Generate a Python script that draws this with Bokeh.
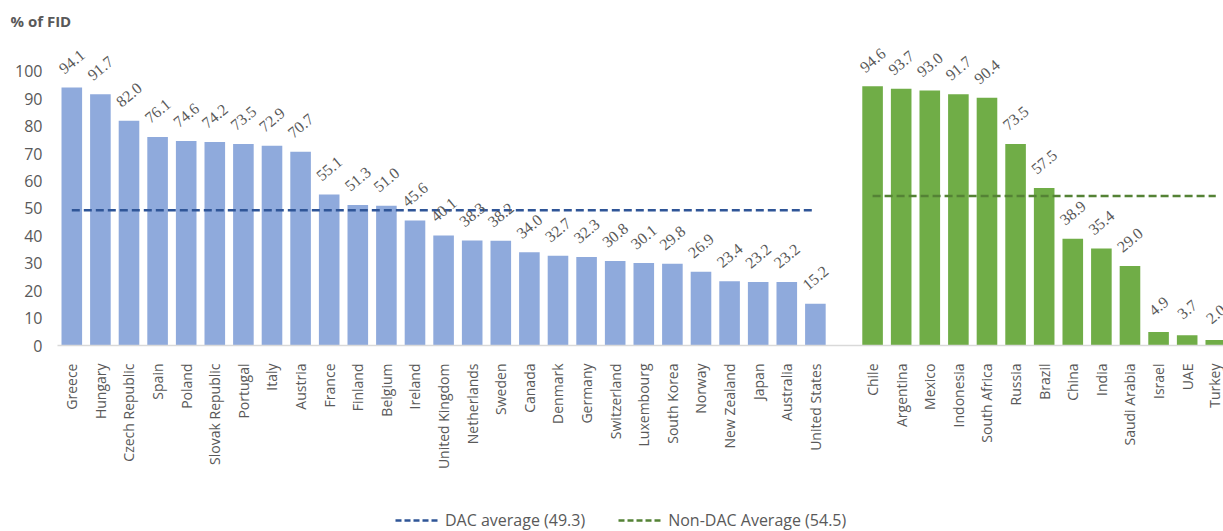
import math
from bokeh.plotting import figure
from bokeh.layouts import column
from bokeh.models import (ColumnDataSource, LabelSet, Legend, LegendItem,
                          FixedTicker, Range1d)
from bokeh.embed import file_html
from bokeh.resources import INLINE

# ---- data ----
dac_countries = ["Greece", "Hungary", "Czech Republic", "Spain", "Poland", "Slovak Republic",
                 "Portugal", "Italy", "Austria", "France", "Finland", "Belgium", "Ireland",
                 "United Kingdom", "Netherlands", "Sweden", "Canada", "Denmark", "Germany",
                 "Switzerland", "Luxembourg", "South Korea", "Norway", "New Zealand", "Japan",
                 "Australia", "United States"]
dac_values = [94.1, 91.7, 82.0, 76.1, 74.6, 74.2, 73.5, 72.9, 70.7, 55.1, 51.3, 51.0, 45.6,
              40.1, 38.3, 38.2, 34.0, 32.7, 32.3, 30.8, 30.1, 29.8, 26.9, 23.4, 23.2, 23.2, 15.2]
nondac_countries = ["Chile", "Argentina", "Mexico", "Indonesia", "South Africa", "Russia",
                    "Brazil", "China", "India", "Saudi Arabia", "Israel", "UAE", "Turkey"]
nondac_values = [94.6, 93.7, 93.0, 91.7, 90.4, 73.5, 57.5, 38.9, 35.4, 29.0, 4.9, 3.7, 2.0]
dac_average = 49.3
nondac_average = 54.5
y_ticks = [0, 10, 20, 30, 40, 50, 60, 70, 80, 90, 100]

# ---- positions (one empty slot between the groups) ----
dac_x = list(range(len(dac_countries)))
non_x = [len(dac_countries) + 1 + i for i in range(len(nondac_countries))]

FONT = "Open Sans"
GREY = "#595959"
BLUE = "#8faadc"
GREEN = "#70ad47"
DBLUE = "#2f5597"
DGREEN = "#548235"

p = figure(width=1223, height=490, output_backend="svg", toolbar_location=None,
           x_range=Range1d(-0.5, 40.27), y_range=Range1d(0, 112),
           min_border_left=57, min_border_right=0, min_border_top=37, min_border_bottom=145)
p.outline_line_color = None
p.xgrid.grid_line_color = None
p.ygrid.grid_line_color = None

# title
p.title.text = "% of FID"
p.title.align = "left"
p.title.offset = -47
p.title.text_font = FONT
p.title.text_font_size = "15px"
p.title.text_font_style = "bold"
p.title.text_color = GREY
p.title.standoff = 16

# bars
dac_src = ColumnDataSource(dict(x=dac_x, top=dac_values,
                                lab=["%.1f" % v for v in dac_values]))
non_src = ColumnDataSource(dict(x=non_x, top=nondac_values,
                                lab=["%.1f" % v for v in nondac_values]))
p.vbar(x="x", top="top", width=0.72, source=dac_src, fill_color=BLUE, line_color=None)
p.vbar(x="x", top="top", width=0.72, source=non_src, fill_color=GREEN, line_color=None)

# value labels
for src in (dac_src, non_src):
    ls = LabelSet(x="x", y="top", text="lab", source=src, angle=40, angle_units="deg",
                  y_offset=26, text_align="center", text_baseline="middle",
                  text_font=FONT, text_font_size="16px", text_color=GREY)
    p.add_layout(ls)

# average lines
p.line(x=[dac_x[0], dac_x[-1]], y=[dac_average, dac_average], line_color=DBLUE,
       line_width=2.5, line_dash="8 4")
p.line(x=[non_x[0], non_x[-1]], y=[nondac_average, nondac_average], line_color=DGREEN,
       line_width=2.5, line_dash="8 4")

# axes
all_x = dac_x + non_x
all_names = dac_countries + nondac_countries
p.xaxis.ticker = FixedTicker(ticks=all_x)
p.xaxis.major_label_overrides = {x: n for x, n in zip(all_x, all_names)}
p.xaxis.major_label_orientation = math.pi / 2
p.xaxis.axis_line_color = "#d9d9d9"
p.xaxis.axis_line_width = 1.5
p.xaxis.major_tick_line_color = None
p.xaxis.minor_tick_line_color = None
p.xaxis.major_label_standoff = 12
p.xaxis.major_label_text_font = FONT
p.xaxis.major_label_text_font_size = "14px"
p.xaxis.major_label_text_color = GREY

p.yaxis.ticker = FixedTicker(ticks=y_ticks)
p.yaxis.axis_line_color = None
p.yaxis.major_tick_line_color = None
p.yaxis.minor_tick_line_color = None
p.yaxis.major_tick_out = 0
p.yaxis.major_tick_in = 0
p.yaxis.major_label_standoff = 15
p.yaxis.major_label_text_font = FONT
p.yaxis.major_label_text_font_size = "16px"
p.yaxis.major_label_text_color = GREY

# legend strip below the chart (its sample lines fall outside its own range)
pl = figure(width=1223, height=41, output_backend="svg", toolbar_location=None,
            x_range=Range1d(0, 1), y_range=Range1d(0, 1), min_border=0)
pl.axis.visible = False
pl.grid.visible = False
pl.outline_line_color = None
l1 = pl.line(x=[dac_x[0], dac_x[-1]], y=[dac_average, dac_average],
             line_color=DBLUE, line_width=2.5, line_dash="6 3")
l2 = pl.line(x=[non_x[0], non_x[-1]], y=[nondac_average, nondac_average],
             line_color=DGREEN, line_width=2.5, line_dash="6 3")
legend = Legend(items=[LegendItem(label="DAC average (%.1f)" % dac_average, renderers=[l1]),
                       LegendItem(label="Non-DAC Average (%.1f)" % nondac_average, renderers=[l2])],
                location=(338, 0), orientation="horizontal",
                label_text_font=FONT, label_text_font_size="16px", label_text_color=GREY,
                glyph_width=45, label_standoff=5, spacing=33, padding=0, margin=0,
                border_line_color=None, background_fill_alpha=0)
pl.add_layout(legend, "center")

layout = column(p, pl, spacing=0)
open("out.html", "w").write(file_html(layout, INLINE))
